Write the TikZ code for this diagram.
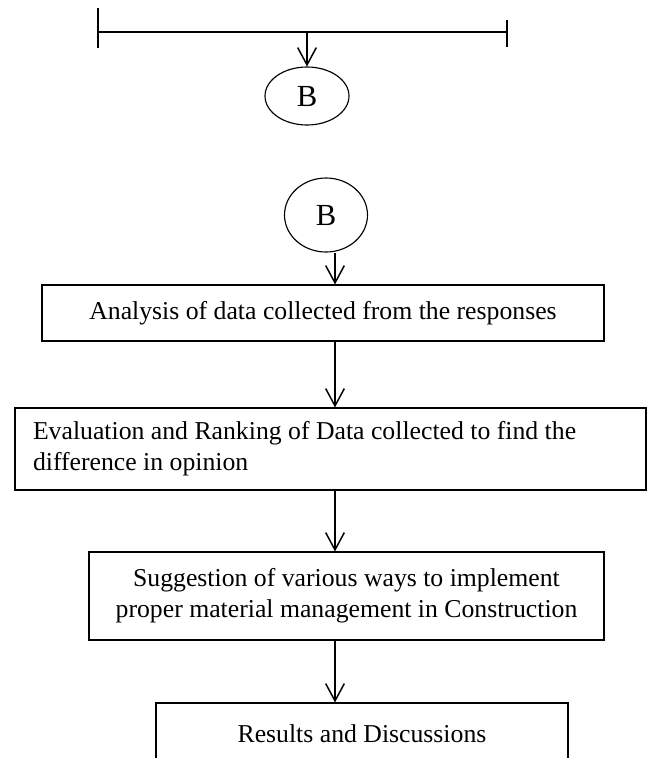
\documentclass[tikz,border=0pt]{standalone}
\usepackage{fontspec}
\setmainfont{Liberation Serif}
\usetikzlibrary{arrows.meta,shapes.geometric}
\tikzset{
  bar/.style={draw=black, line width=1.1pt},
  box/.style={draw=black, line width=0.85pt, rectangle, inner sep=0pt, align=center, font=\fontsize{19.3}{23}\selectfont},
  oval/.style={draw=black, line width=0.85pt, ellipse, inner sep=0pt, font=\fontsize{23}{27}\selectfont},
  link/.style={draw=black, line width=1.1pt, -{Straight Barb[length=13pt,width=14pt,line width=1.1pt]}}
}

\begin{document}
\begin{tikzpicture}[x=0.75pt, y=-0.75pt]
  \clip (0,0) rectangle (652,758);
  \coordinate (L) at (98,32);
  \coordinate (R) at (507,32);
  \coordinate (M) at (307,32);
  \coordinate (col) at (335,0);
  \draw[bar] (L) -- (R);
  \draw[bar] (L) ++(0,-24) -- ++(0,40);
  \draw[bar] (R) ++(0,-12) -- ++(0,27);
  \node[oval, minimum width=63pt, minimum height=43.5pt] (B1) at (307,96) {B};
  \node[oval, minimum width=62.25pt, minimum height=55.5pt] (B2) at (326,215) {B};
  \node[box, minimum width=421.5pt, minimum height=42pt] (analysis) at (323,313) {Analysis of data collected from the responses};
  \node[box, minimum width=473.25pt, minimum height=61.5pt, text width=446.25pt, align=flush left] (ranking) at (330.5,449) {Evaluation and Ranking of Data collected to find the\\difference in opinion};
  \node[box, minimum width=386.25pt, minimum height=66pt] (suggest) at (346.5,596) {Suggestion of various ways to implement\\proper material management in Construction};
  \node[box, minimum width=309pt, minimum height=46.5pt] (results) at (362,734) {Results and Discussions};
  \draw[link] (M) -- (B1.north);
  \draw[link] (B2.south -| col) -- (analysis.north -| col);
  \draw[link] (analysis.south -| col) -- (ranking.north -| col);
  \draw[link] (ranking.south -| col) -- (suggest.north -| col);
  \draw[link] (suggest.south -| col) -- (results.north -| col);
\end{tikzpicture}
\end{document}
